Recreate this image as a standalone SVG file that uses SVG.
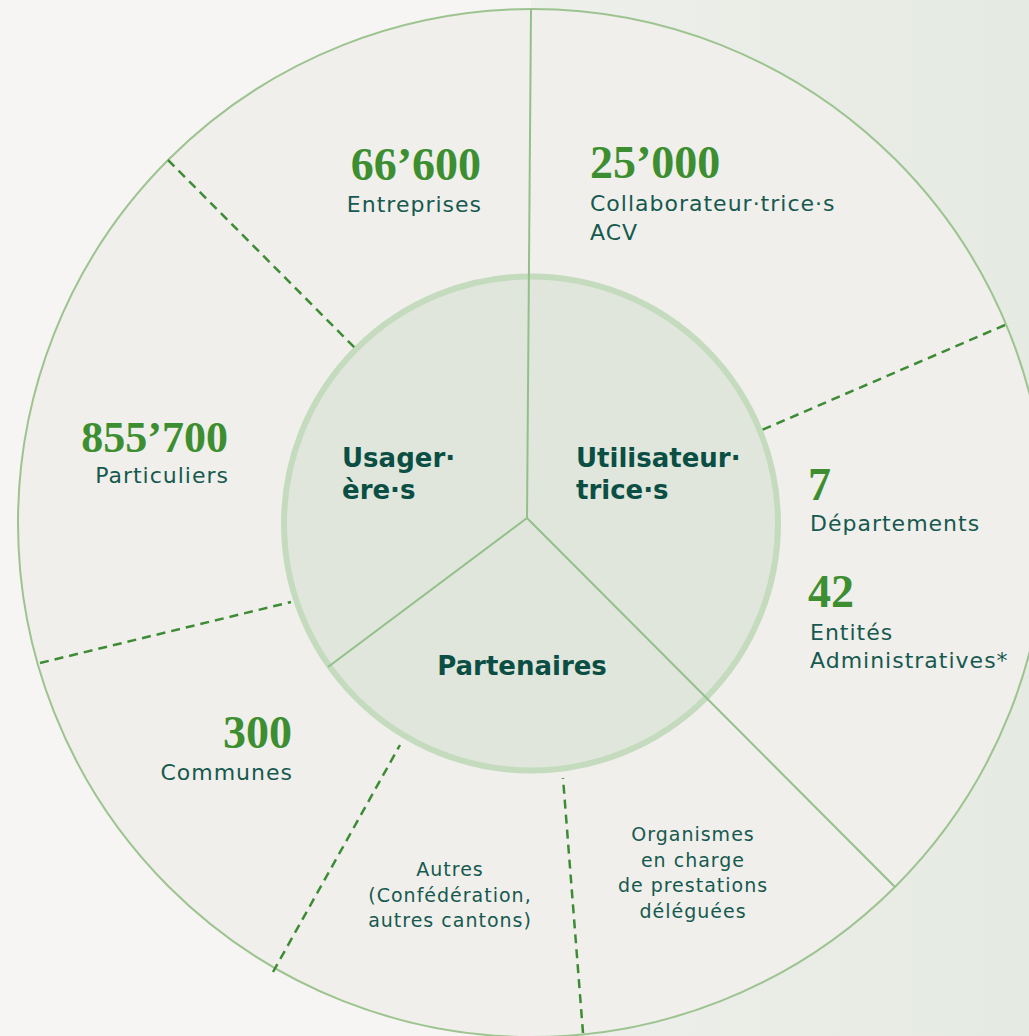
<svg xmlns="http://www.w3.org/2000/svg" width="1029" height="1036" viewBox="0 0 1029 1036">
<defs>
<linearGradient id="bgR" x1="0" y1="0" x2="1" y2="0">
<stop offset="0" stop-color="#eef0eb"/>
<stop offset="1" stop-color="#e5eae2"/>
</linearGradient>
</defs>
<style>
.num{font-family:"Liberation Serif","DejaVu Serif",serif;font-weight:bold;fill:#3d8e30;font-size:46px}
.lbl{font-family:"DejaVu Sans","Noto Sans",sans-serif;fill:#16594f;font-size:22px;letter-spacing:1px}
.sm{font-family:"DejaVu Sans","Noto Sans",sans-serif;fill:#16594f;font-size:19px;letter-spacing:1px;text-anchor:middle}
.hd{font-family:"DejaVu Sans","Noto Sans",sans-serif;font-weight:bold;fill:#0b4f44;font-size:26px}
.solid{stroke:#93c08a;stroke-width:2;fill:none}
.dash{stroke:#3d8c35;stroke-width:2.5;fill:none;stroke-dasharray:9 6}
</style>
<rect x="0" y="0" width="1029" height="1036" fill="#f6f5f3"/>
<rect x="531" y="0" width="498" height="1036" fill="url(#bgR)"/>
<g id="outer-ring">
<circle cx="532" cy="523" r="514" fill="#f0efeb" stroke="#9dc490" stroke-width="2"/>
</g>
<g id="inner-circle">
<circle cx="531" cy="523.5" r="247" fill="#e0e6dc" stroke="#c4dbbe" stroke-width="6"/>
</g>
<g id="connectors">
<line class="solid" x1="531" y1="9" x2="527" y2="518"/>
<line class="solid" x1="527" y1="518" x2="328" y2="667"/>
<line class="solid" x1="527" y1="518" x2="895" y2="887"/>
<line class="dash" x1="168" y1="160" x2="356" y2="349"/>
<line class="dash" x1="1005" y1="325" x2="762" y2="430"/>
<line class="dash" x1="40" y1="663" x2="291" y2="602"/>
<line class="dash" x1="273" y1="972" x2="400" y2="745"/>
<line class="dash" x1="583" y1="1033" x2="563" y2="778"/>
</g>
<g id="usagers">
<text class="hd" x="342" y="467">Usager·</text>
<text class="hd" x="342" y="499">ère·s</text>
</g>
<g id="utilisateurs">
<text class="hd" x="576" y="467">Utilisateur·</text>
<text class="hd" x="576" y="499">trice·s</text>
</g>
<g id="partenaires">
<text class="hd" x="522" y="675" text-anchor="middle">Partenaires</text>
</g>
<g id="entreprises">
<text class="num" x="481" y="180" text-anchor="end">66’600</text>
<text class="lbl" x="482" y="212" text-anchor="end">Entreprises</text>
</g>
<g id="collaborateurs">
<text class="num" x="590" y="178">25’000</text>
<text class="lbl" x="590" y="211">Collaborateur·trice·s</text>
<text class="lbl" x="590" y="240">ACV</text>
</g>
<g id="particuliers">
<text class="num" x="228" y="452" text-anchor="end" style="font-size:44px">855’700</text>
<text class="lbl" x="229" y="483" text-anchor="end">Particuliers</text>
</g>
<g id="departements">
<text class="num" x="808" y="500">7</text>
<text class="lbl" x="810" y="531">Départements</text>
</g>
<g id="entites">
<text class="num" x="808" y="607">42</text>
<text class="lbl" x="810" y="640">Entités</text>
<text class="lbl" x="810" y="668">Administratives*</text>
</g>
<g id="communes">
<text class="num" x="292" y="748" text-anchor="end">300</text>
<text class="lbl" x="293" y="780" text-anchor="end">Communes</text>
</g>
<g id="autres">
<text class="sm" x="450" y="876">Autres</text>
<text class="sm" x="450" y="902">(Confédération,</text>
<text class="sm" x="450" y="927">autres cantons)</text>
</g>
<g id="organismes">
<text class="sm" x="693" y="841">Organismes</text>
<text class="sm" x="693" y="867">en charge</text>
<text class="sm" x="693" y="892">de prestations</text>
<text class="sm" x="693" y="918">déléguées</text>
</g>
</svg>
